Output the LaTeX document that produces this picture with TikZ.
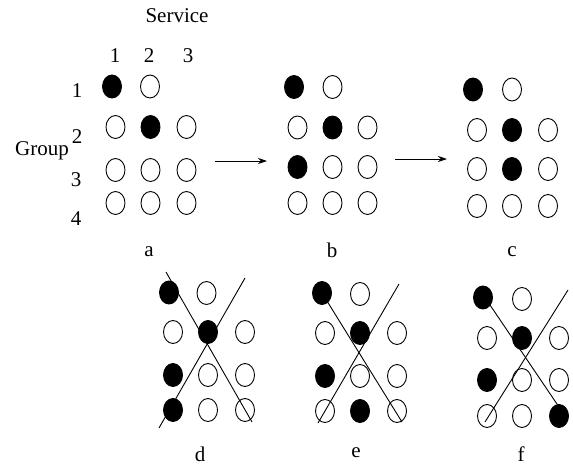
\documentclass[tikz,border=0pt]{standalone}
\usepackage{fontspec}
\setmainfont{Liberation Serif}
\usetikzlibrary{shapes.geometric,arrows.meta}
\begin{document}
\begin{tikzpicture}[x=1pt,y=-1pt,
  dotbase/.style={ellipse,draw,line width=0.9pt,minimum width=19pt,minimum height=23pt,inner sep=0pt},
  opendot/.style={dotbase,fill=white},
  fulldot/.style={dotbase,fill=black},
  lbl/.style={font=\fontsize{21}{25}\selectfont,inner sep=0pt,anchor=base},
  cutline/.style={line width=0.9pt},
  steparrow/.style={line width=0.9pt,-{Stealth[length=9pt,width=6pt,inset=3pt]}}]
\useasboundingbox[fill=white] (0,0) rectangle (573,466);

% axis labels
\node[lbl] (service) at (177,22) {Service};
\node[lbl] (s1) at (115,62) {1};
\node[lbl] (s2) at (149,62) {2};
\node[lbl] (s3) at (188,62) {3};
\node[lbl] (g1) at (77,97) {1};
\node[lbl] (g2) at (77,143) {2};
\node[lbl] (g3) at (76,186) {3};
\node[lbl] (g4) at (76,225) {4};
\node[lbl,anchor=base west] (group) at (15,155) {Group};

% state a
\node[fulldot] (a11) at (112,86.5) {};
\node[opendot] (a12) at (150,86.5) {};
\node[opendot] (a21) at (115.5,127) {};
\node[fulldot] (a22) at (150.5,127) {};
\node[opendot] (a23) at (186.5,127) {};
\node[opendot] (a31) at (115.5,170) {};
\node[opendot] (a32) at (150.5,170) {};
\node[opendot] (a33) at (186.5,170) {};
\node[opendot] (a41) at (115.5,203) {};
\node[opendot] (a42) at (150.5,203) {};
\node[opendot] (a43) at (186.5,203) {};
\node[lbl] (la) at (149,256) {a};

% state b
\node[fulldot] (b11) at (294,87) {};
\node[opendot] (b12) at (332.5,87) {};
\node[opendot] (b21) at (297.5,127.5) {};
\node[fulldot] (b22) at (332.5,127.5) {};
\node[opendot] (b23) at (367.5,127.5) {};
\node[fulldot] (b31) at (297.5,167) {};
\node[opendot] (b32) at (332.5,167) {};
\node[opendot] (b33) at (367.5,167) {};
\node[opendot] (b41) at (297.5,203) {};
\node[opendot] (b42) at (332.5,203) {};
\node[opendot] (b43) at (367.5,203) {};
\node[lbl] (lb) at (332,257) {b};

% state c
\node[fulldot] (c11) at (473,89.5) {};
\node[opendot] (c12) at (512,89.5) {};
\node[opendot] (c21) at (477,130) {};
\node[fulldot] (c22) at (512,130) {};
\node[opendot] (c23) at (548,130) {};
\node[opendot] (c31) at (477,169) {};
\node[fulldot] (c32) at (512,169) {};
\node[opendot] (c33) at (548,169) {};
\node[opendot] (c41) at (477,206) {};
\node[opendot] (c42) at (512,206) {};
\node[opendot] (c43) at (548,206) {};
\node[lbl] (lc) at (512,256) {c};

% transitions a -> b -> c
\coordinate (ab1) at (215,161);
\coordinate (ab2) at (267,161);
\coordinate (bc1) at (395,159);
\coordinate (bc2) at (447,159);
\draw[steparrow] (ab1) -- (ab2);
\draw[steparrow] (bc1) -- (bc2);

% state d
\node[fulldot] (d11) at (169,292.5) {};
\node[opendot] (d12) at (206.5,293) {};
\node[opendot] (d21) at (173,332) {};
\node[fulldot] (d22) at (208,332) {};
\node[opendot] (d23) at (245,332) {};
\node[fulldot] (d31) at (173,375) {};
\node[opendot] (d32) at (208,375) {};
\node[opendot] (d33) at (245,375) {};
\node[fulldot] (d41) at (173,410) {};
\node[opendot] (d42) at (208,410) {};
\node[opendot] (d43) at (245,410) {};
\node[lbl] (ld) at (200,461) {d};
\coordinate (dp1) at (166,272);
\coordinate (dp2) at (252,422);
\coordinate (dq1) at (245,278);
\coordinate (dq2) at (159,428);
\draw[cutline] (dp1) -- (dp2);
\draw[cutline] (dq1) -- (dq2);

% state e
\node[fulldot] (e11) at (322,293) {};
\node[opendot] (e12) at (360,294) {};
\node[opendot] (e21) at (325,333) {};
\node[fulldot] (e22) at (360,333) {};
\node[opendot] (e23) at (397,333) {};
\node[fulldot] (e31) at (325,376) {};
\node[opendot] (e32) at (360,376) {};
\node[opendot] (e33) at (397,376) {};
\node[opendot] (e41) at (325,411) {};
\node[fulldot] (e42) at (360,411) {};
\node[opendot] (e43) at (397,411) {};
\node[lbl] (le) at (356,457) {e};
\coordinate (ep2) at (402,422);
\coordinate (eq1) at (399,284);
\coordinate (eq2) at (318,423);
\draw[cutline] (e11.center) -- (ep2);
\draw[cutline] (eq1) -- (eq2);

% state f
\node[fulldot] (f11) at (483,297.5) {};
\node[opendot] (f12) at (522,299) {};
\node[opendot] (f21) at (487,338) {};
\node[fulldot] (f22) at (522,338) {};
\node[opendot] (f23) at (559,338) {};
\node[fulldot] (f31) at (487,380) {};
\node[opendot] (f32) at (522,380) {};
\node[opendot] (f33) at (559,380) {};
\node[opendot] (f41) at (487,416) {};
\node[opendot] (f42) at (522,416) {};
\node[fulldot] (f43) at (559,416) {};
\node[lbl] (lf) at (521,461) {f};
\coordinate (fp1) at (490,305);
\coordinate (fp2) at (559,407);
\coordinate (fq1) at (568,290);
\coordinate (fq2) at (485,422);
\draw[cutline] (fp1) -- (fp2);
\draw[cutline] (fq1) -- (fq2);
\end{tikzpicture}
\end{document}
